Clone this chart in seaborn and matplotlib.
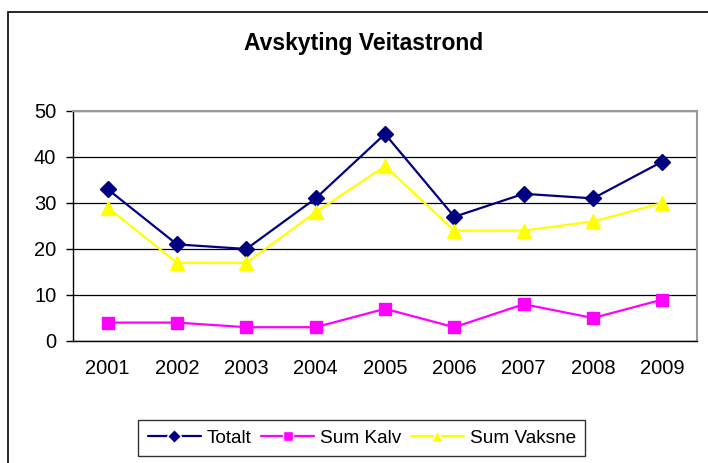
import numpy as np
import pandas as pd
import matplotlib
matplotlib.use("Agg")
import matplotlib.pyplot as plt
from matplotlib.patches import Rectangle
import seaborn as sns

years = ["2001", "2002", "2003", "2004", "2005", "2006", "2007", "2008", "2009"]
totalt = [33, 21, 20, 31, 45, 27, 32, 31, 39]
sum_kalv = [4, 4, 3, 3, 7, 3, 8, 5, 9]
sum_vaksne = [29, 17, 17, 28, 38, 24, 24, 26, 30]
series = ["Totalt", "Sum Kalv", "Sum Vaksne"]
colors = ["#000080", "#FF00FF", "#FFFF00"]
marks = ["D", "s", "^"]
msizes = [8.5, 8, 10]

df = pd.DataFrame({"Year": years, "Totalt": totalt,
                   "Sum Kalv": sum_kalv, "Sum Vaksne": sum_vaksne})
df["pos"] = np.arange(len(years))
long = df.melt(id_vars=["Year", "pos"], value_vars=series,
               var_name="Serie", value_name="Antal")

sns.set_style("white")
plt.rcParams["font.family"] = ["Liberation Sans", "DejaVu Sans"]
plt.rcParams["text.color"] = "black"
plt.rcParams["xtick.color"] = "black"
plt.rcParams["ytick.color"] = "black"

fig = plt.figure(figsize=(7.08, 4.63), dpi=100)
ax = fig.add_axes([0.1031, 0.2635, 0.8814, 0.4968])

sns.lineplot(data=long, x="pos", y="Antal", hue="Serie", style="Serie",
             hue_order=series, style_order=series,
             palette=dict(zip(series, colors)),
             markers=dict(zip(series, marks)), dashes=False,
             markeredgewidth=1, linewidth=1.6,
             legend="full", ax=ax)
for line, c, ms in zip(ax.lines, colors, msizes):
    line.set_markeredgecolor(c)
    line.set_markersize(ms)

ax.set_xlim(-0.5, len(years) - 0.5)
ax.set_ylim(0, 50)
ax.set_yticks(range(0, 51, 10))
ax.set_xticks(df["pos"])
ax.set_xticklabels(years)
ax.set_xticks(np.arange(-0.5, len(years), 1), minor=True)
ax.tick_params(axis="x", which="major", length=0, labelsize=14.5, pad=13)
ax.tick_params(axis="x", which="minor", length=5, width=1, color="black", direction="out")
ax.tick_params(axis="y", length=5, width=1, color="black", direction="out",
               labelsize=14.5, pad=7, left=True)
ax.set_xlabel("")
ax.set_ylabel("")
ax.yaxis.grid(True, color="black", linewidth=0.9)
ax.set_axisbelow(True)
for s in ["top", "right"]:
    ax.spines[s].set_color("#999999")
    ax.spines[s].set_linewidth(1.5)
for s in ["left", "bottom"]:
    ax.spines[s].set_color("black")
    ax.spines[s].set_linewidth(1)

handles, labels = ax.get_legend_handles_labels()
for h, ms in zip(handles, msizes):
    h.set_markersize(ms * 0.85)
ax.get_legend().remove()
leg = fig.legend(handles, labels, loc="center", bbox_to_anchor=(0.511, 0.054),
                 ncol=3, fontsize=13.7, frameon=True, fancybox=False,
                 handlelength=2.8, columnspacing=0.5, handletextpad=0.3,
                 borderpad=0.5, borderaxespad=0, edgecolor="black")
leg.get_frame().set_linewidth(1)

fig.text(0.513, 0.907, "Avskyting Veitastrond", ha="center", va="center",
         fontsize=16.5, fontweight="bold")

fig.patches.append(Rectangle((8 / 708, -0.05), 1.2, 1 - 12 / 463 + 0.05,
                             transform=fig.transFigure, fill=False,
                             edgecolor="black", linewidth=1.2, clip_on=False))

fig.savefig("out.png", dpi=100)
